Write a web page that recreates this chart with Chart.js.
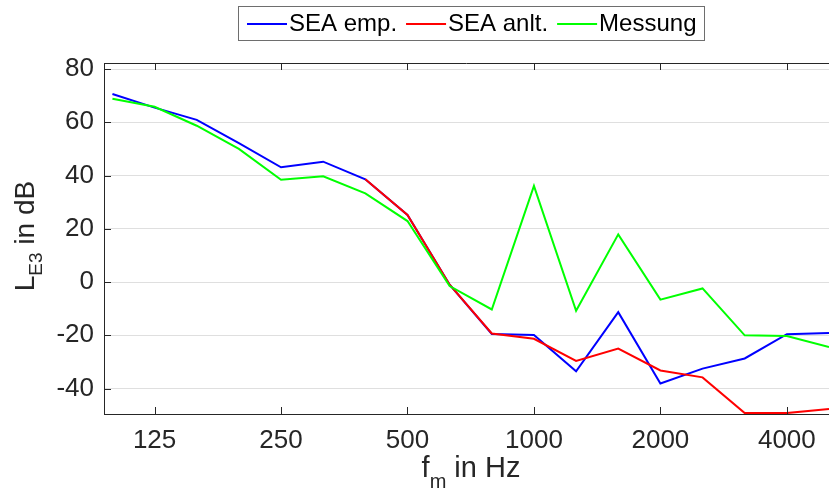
<!DOCTYPE html>
<html>
<head>
<meta charset="utf-8">
<script src="https://cdn.jsdelivr.net/npm/chart.js@4.4.0/dist/chart.umd.min.js"></script>
<style>
    body { margin: 0; background: #fff; }
    #wrap { width: 829px; height: 500px; }
</style>
</head>
<body>
<div id="wrap"><canvas id="levelChart"></canvas></div>
<script>
// Terzmittenfrequenzen
const freqs = [100, 125, 160, 200, 250, 315, 400, 500, 630, 800, 1000, 1250, 1600, 2000, 2500, 3150, 4000, 5000];
const xTickLabels = ['125', '250', '500', '1000', '2000', '4000'];
const yTicks = [-40, -20, 0, 20, 40, 60, 80];

const seaEmp = [70.6, 65.5, 60.9, 52.2, 43.1, 45.2, 38.6, 25.2, -1.0, -19.5, -19.9, -33.5, -11.3, -38.1, -32.5, -28.7, -19.6, -19.1];
const seaAnlt = [null, null, null, null, null, null, 38.6, 25.2, -1.0, -19.3, -21.3, -29.6, -25.0, -33.2, -35.8, -49.2, -49.2, -47.7];
const messung = [68.8, 65.8, 58.7, 50.0, 38.4, 39.7, 33.3, 22.9, -1.5, -10.3, 36.1, -10.8, 17.9, -6.6, -2.4, -20.0, -20.3, -24.4];

const axisColor = '#262626';
const fontFamily = 'Arial, "Liberation Sans", sans-serif';

function toPoints(values) {
    return values.map((v, i) => ({ x: i, y: v }));
}

// Achsentitel, Legende, Innenticks
const decorations = {
    id: 'decorations',
    afterDraw(chart) {
        const ctx = chart.ctx;
        const area = chart.chartArea;
        const xs = chart.scales.x;
        const ys = chart.scales.y;
        ctx.save();

        // top border
        ctx.strokeStyle = axisColor;
        ctx.lineWidth = 1;
        ctx.beginPath();
        ctx.moveTo(area.left, area.top + 0.5);
        ctx.lineTo(area.right, area.top + 0.5);
        ctx.stroke();

        // inward ticks
        ctx.beginPath();
        xs.ticks.forEach(t => {
            const px = Math.round(xs.getPixelForValue(t.value)) + 0.5;
            ctx.moveTo(px, area.bottom);
            ctx.lineTo(px, area.bottom - 7);
            ctx.moveTo(px, area.top);
            ctx.lineTo(px, area.top + 7);
        });
        ys.ticks.forEach(t => {
            const py = Math.round(ys.getPixelForValue(t.value)) + 0.5;
            ctx.moveTo(area.left, py);
            ctx.lineTo(area.left + 7, py);
        });
        ctx.stroke();

        ctx.fillStyle = axisColor;
        ctx.textBaseline = 'alphabetic';
        ctx.textAlign = 'left';

        // y title: L_E3 in dB
        ctx.save();
        ctx.translate(34, 236);
        ctx.rotate(-Math.PI / 2);
        drawSubText(ctx, 'L', 'E3', ' in dB', 28, 19, 8);
        ctx.restore();

        // x title: f_m in Hz
        ctx.save();
        ctx.translate(471, 477);
        drawSubText(ctx, 'f', 'm', ' in Hz', 29, 20, 11);
        ctx.restore();

        // legend
        const lx = 238, ly = 6, lw = 466, lh = 34;
        ctx.fillStyle = '#fff';
        ctx.fillRect(lx, ly, lw, lh);
        ctx.strokeStyle = '#6e6e6e';
        ctx.strokeRect(lx + 0.5, ly + 0.5, lw, lh);
        ctx.font = '24px ' + fontFamily;
        let cx = lx + 9;
        const cy = ly + lh / 2 + 1;
        chart.data.datasets.forEach(ds => {
            ctx.strokeStyle = ds.borderColor;
            ctx.lineWidth = 2;
            ctx.beginPath();
            ctx.moveTo(cx, cy);
            ctx.lineTo(cx + 40, cy);
            ctx.stroke();
            cx += 42;
            ctx.fillStyle = '#000';
            ctx.textBaseline = 'middle';
            ctx.fillText(ds.label, cx, cy);
            cx += ctx.measureText(ds.label).width + 9;
        });
        ctx.restore();
    }
};

function drawSubText(ctx, main, sub, rest, size, subSize, drop) {
    const f = s => s + 'px ' + fontFamily;
    ctx.font = f(size);
    const w1 = ctx.measureText(main).width;
    const w3 = ctx.measureText(rest).width;
    ctx.font = f(subSize);
    const w2 = ctx.measureText(sub).width;
    let x = -(w1 + w2 + w3) / 2;
    ctx.font = f(size);
    ctx.fillText(main, x, 0);
    x += w1;
    ctx.font = f(subSize);
    ctx.fillText(sub, x, drop);
    x += w2;
    ctx.font = f(size);
    ctx.fillText(rest, x, 0);
}

const ctx = document.getElementById('levelChart').getContext('2d');
new Chart(ctx, {
    type: 'line',
    data: {
        datasets: [
            { label: 'SEA emp.', data: toPoints(seaEmp), borderColor: '#0000ff', order: 2 },
            { label: 'SEA anlt.', data: toPoints(seaAnlt), borderColor: '#ff0000', order: 1 },
            { label: 'Messung', data: toPoints(messung), borderColor: '#00ff00', order: 0 }
        ]
    },
    options: {
        responsive: true,
        maintainAspectRatio: false,
        animation: false,
        devicePixelRatio: 1,
        layout: { padding: { top: 63, right: 0, left: 0, bottom: 0 } },
        elements: {
            line: { borderWidth: 2, tension: 0, fill: false },
            point: { radius: 0, hoverRadius: 0 }
        },
        plugins: {
            legend: { display: false },
            tooltip: { enabled: false }
        },
        scales: {
            x: {
                type: 'linear',
                min: -0.2,
                max: 17,
                afterFit: scale => { scale.height = 86; },
                afterBuildTicks: scale => {
                    scale.ticks = xTickLabels.map(l => ({ value: freqs.indexOf(Number(l)) }));
                },
                ticks: {
                    autoSkip: false,
                    maxRotation: 0,
                    padding: 11,
                    color: axisColor,
                    font: { family: fontFamily, size: 26 },
                    callback: value => String(freqs[value])
                },
                grid: { display: false, drawTicks: false },
                border: { display: true, color: axisColor, width: 1 }
            },
            y: {
                type: 'linear',
                min: -49.55,
                max: 82.26,
                afterFit: scale => { scale.width = 104; },
                afterBuildTicks: scale => {
                    scale.ticks = yTicks.map(v => ({ value: v }));
                },
                ticks: {
                    padding: 10,
                    color: axisColor,
                    font: { family: fontFamily, size: 26 }
                },
                grid: { color: '#dfdfdf', drawTicks: false, lineWidth: 1 },
                border: { display: true, color: axisColor, width: 1 }
            }
        }
    },
    plugins: [decorations]
});
</script>
</body>
</html>
